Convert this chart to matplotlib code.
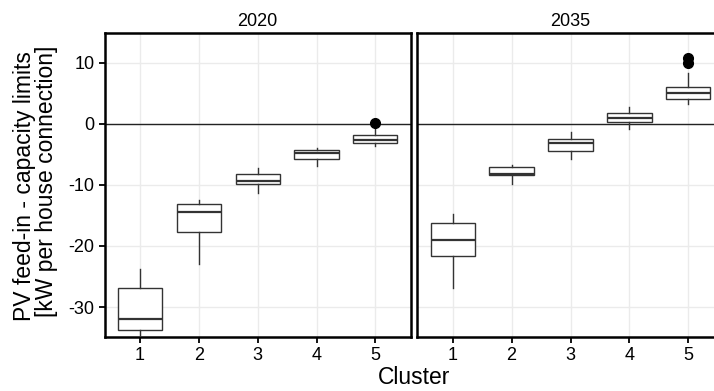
import matplotlib
matplotlib.use("Agg")
import matplotlib.pyplot as plt

plt.rcParams['font.family'] = ['Liberation Sans', 'DejaVu Sans']

clusters = ["1", "2", "3", "4", "5"]
panels = ["2020", "2035"]

whislo = {"2020": [-34.6, -22.9, -11.3, -7.0, -3.65],
          "2035": [-26.9, -9.9, -5.7, -0.92, 3.16]}
q1 = {"2020": [-33.7, -17.8, -9.9, -5.7, -3.2],
      "2035": [-21.7, -8.4, -4.4, 0.22, 3.98]}
med = {"2020": [-31.9, -14.4, -9.3, -4.85, -2.67],
       "2035": [-19.0, -8.3, -3.2, 0.93, 5.07]}
q3 = {"2020": [-26.9, -13.2, -8.2, -4.3, -1.85],
      "2035": [-16.2, -7.1, -2.57, 1.7, 6.05]}
whishi = {"2020": [-23.7, -12.5, -7.3, -3.9, -0.5],
          "2035": [-14.8, -6.7, -1.4, 2.8, 8.3]}
fliers = {"2020": [[], [], [], [], [0.2]],
          "2035": [[], [], [], [], [9.9, 10.7]]}

yticks = [-30, -20, -10, 0, 10]

W, H = 714, 391
fig = plt.figure(figsize=(W / 100, H / 100), dpi=100)

top_px, bot_px = 32.7, 336.7
lefts = [(104.7, 410.7), (417.3, 723.7)]
ymin, ymax = -34.86, 14.9

for i, p in enumerate(panels):
    l, r = lefts[i]
    ax = fig.add_axes([l / W, 1 - bot_px / H, (r - l) / W, (bot_px - top_px) / H])
    stats = []
    for k in range(len(clusters)):
        stats.append(dict(med=med[p][k], q1=q1[p][k], q3=q3[p][k],
                          whislo=whislo[p][k], whishi=whishi[p][k],
                          fliers=fliers[p][k], label=clusters[k]))
    ax.set_axisbelow(True)
    ax.grid(True, color="#EBEBEB", linewidth=1.0)
    ax.axhline(0, color="#222222", linewidth=1.0, zorder=1.5)
    ax.bxp(stats, positions=range(1, 6), widths=0.75, patch_artist=True,
           showcaps=False,
           boxprops=dict(facecolor="white", edgecolor="#333333", linewidth=1.0),
           medianprops=dict(color="#333333", linewidth=1.6),
           whiskerprops=dict(color="#333333", linewidth=1.0),
           flierprops=dict(marker="o", markerfacecolor="black",
                           markeredgecolor="black", markersize=7))
    ax.set_xlim(0.4, 5.6)
    ax.set_ylim(ymin, ymax)
    ax.set_xticks(range(1, 6))
    ax.set_xticklabels(clusters, fontsize=13)
    ax.set_yticks(yticks)
    if i == 0:
        ax.set_yticklabels([str(v) for v in yticks], fontsize=13)
    else:
        ax.tick_params(axis="y", left=False, labelleft=False)
    ax.tick_params(axis="both", direction="out", length=4.5, width=1.3,
                   color="black", labelcolor="black", pad=3)
    for s in ax.spines.values():
        s.set_linewidth(1.8)
        s.set_color("black")
    ax.set_title(p, fontsize=13, pad=5)

fig.text(25 / W, 1 - 186 / H, "PV feed-in - capacity limits",
         rotation=90, ha="center", va="center", fontsize=16.5)
fig.text(47 / W, 1 - 181 / H, "[kW per house connection]",
         rotation=90, ha="center", va="center", fontsize=16.5)

fig.text(414 / W, 1 - 377 / H, "Cluster",
         ha="center", va="center", fontsize=16.5)

fig.savefig("out.png", dpi=100)
